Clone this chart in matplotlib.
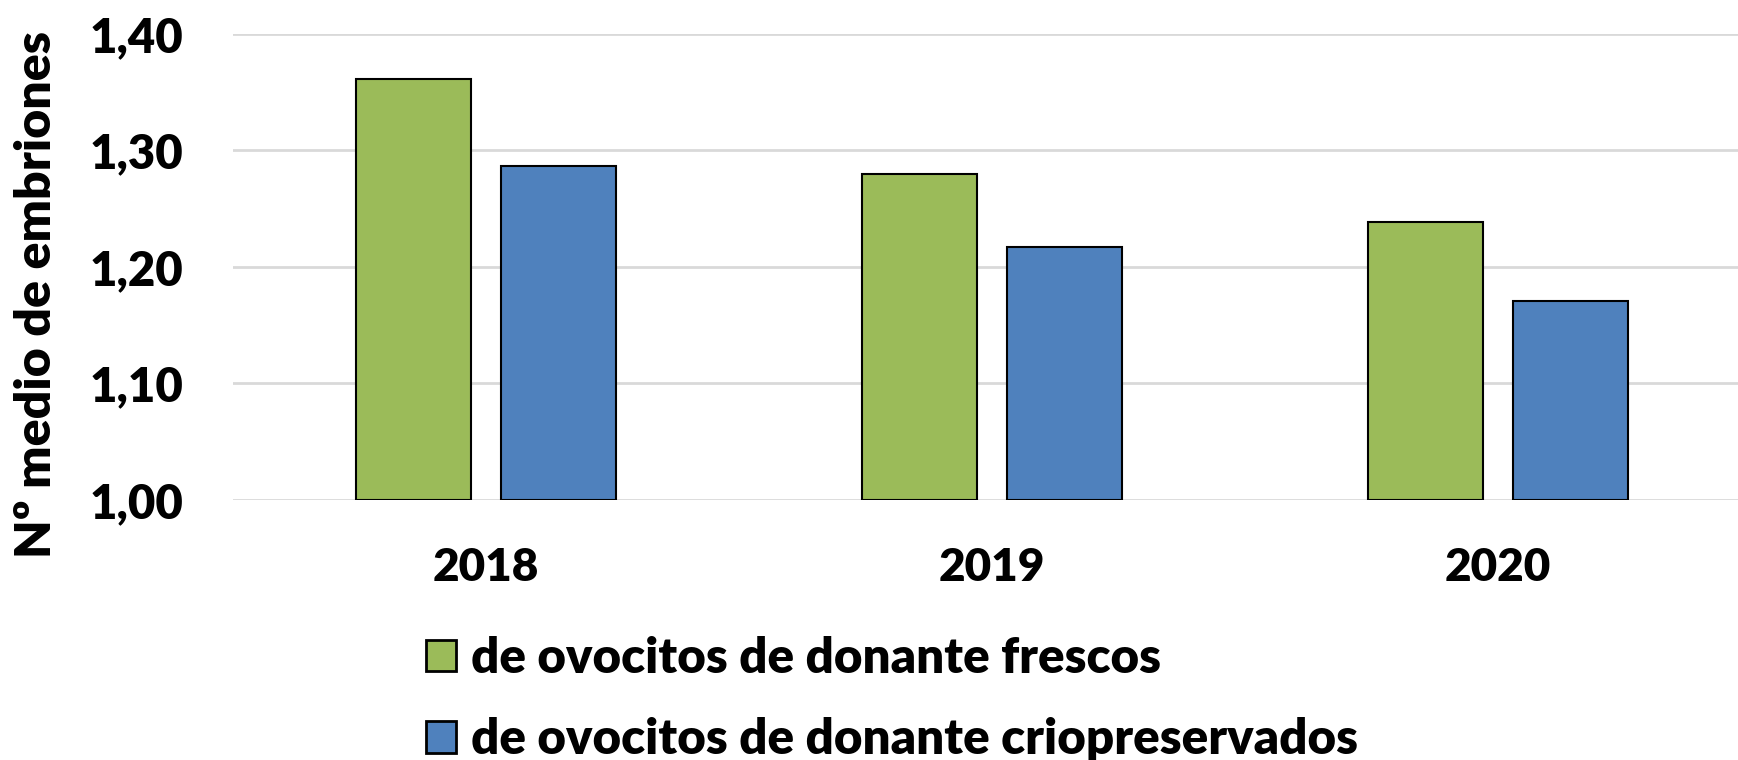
import matplotlib.pyplot as plt
import numpy as np

years = ['2018', '2019', '2020']
frescos = [1.361, 1.280, 1.239]
crio = [1.287, 1.217, 1.171]
labels = ['de ovocitos de donante frescos', 'de ovocitos de donante criopreservados']
yticks = [1.00, 1.10, 1.20, 1.30, 1.40]

plt.rcParams['font.family'] = ['Lato', 'DejaVu Sans']
plt.rcParams['font.weight'] = 'heavy'

fig = plt.figure(figsize=(17.38, 7.6), dpi=100)
ax = fig.add_axes([233 / 1738, 260 / 760, 1518 / 1738, 466 / 760])

x = np.arange(len(years))
w = 0.227
off = 0.143
ax.bar(x - off, np.array(frescos) - 1, bottom=1, width=w, color='#9BBB59',
       edgecolor='black', linewidth=1.5, label=labels[0], zorder=3)
ax.bar(x + off, np.array(crio) - 1, bottom=1, width=w, color='#4F81BD',
       edgecolor='black', linewidth=1.5, label=labels[1], zorder=3)

ax.set_xlim(-0.5, 2.5)
ax.set_ylim(1.0, 1.4)
ax.set_yticks(yticks)
ax.set_yticklabels([f'{v:.2f}'.replace('.', ',') for v in yticks], fontsize=34, fontweight='heavy')
ax.set_xticks(x)
ax.set_xticklabels(years, fontsize=33, fontweight='heavy')
ax.tick_params(axis='y', length=0, pad=36)
ax.tick_params(axis='x', length=0, pad=34)
ax.grid(axis='y', color='#D9D9D9', linewidth=2, zorder=0)
for s in ax.spines.values():
    s.set_visible(False)

fig.text(37 / 1738, 465 / 760, 'Nº medio de embriones', rotation=90, fontsize=36,
         fontweight='heavy', ha='center', va='center')

leg = fig.legend(loc='upper left', bbox_to_anchor=(426 / 1738, 124 / 760), frameon=False,
                 fontsize=35.5, handlelength=0.6, handleheight=0.6, handletextpad=0.32,
                 labelspacing=0.74, borderaxespad=0, borderpad=0)
for t in leg.get_texts():
    t.set_fontweight('heavy')
for p in leg.get_patches():
    p.set_linewidth(2)

fig.savefig('out.png', dpi=100)
